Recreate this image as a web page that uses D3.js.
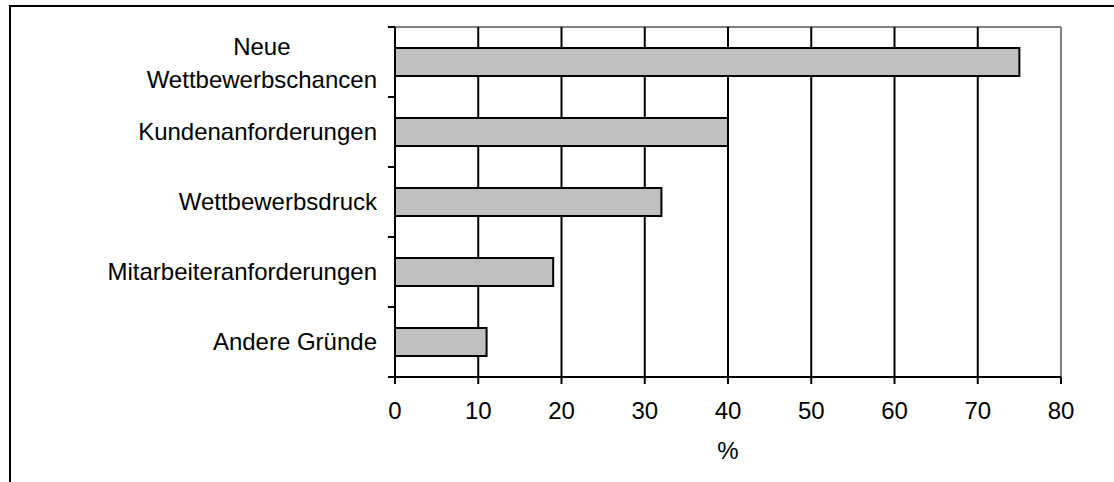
<!DOCTYPE html>
<html><head><meta charset="utf-8">
<script src="https://cdn.jsdelivr.net/npm/d3@7"></script>
<style>html,body{margin:0;padding:0;background:#fff;}svg{display:block;}</style>
</head><body>
<script>
const categories = [["Neue","Wettbewerbschancen"],["Kundenanforderungen"],["Wettbewerbsdruck"],["Mitarbeiteranforderungen"],["Andere Gründe"]];
const values = [75, 40, 32, 19, 11];
const xTicks = [0,10,20,30,40,50,60,70,80];
const xTitle = "%";

(function(){
const W = 1114, H = 482;
const svg = d3.select("body").append("svg").attr("width", W).attr("height", H);
const font = "Liberation Sans, Arial, sans-serif";
const fs = 24;

// outer frame
svg.append("rect").attr("x",10).attr("y",6).attr("width",W+20).attr("height",H+20)
  .attr("fill","none").attr("stroke","#000").attr("stroke-width",2);

const pL = 395, pR = 1061, pT = 27, pB = 377;
const x = d3.scaleLinear().domain([0,80]).range([pL,pR]);
const keys = categories.map((c,i)=>i);
const y = d3.scaleBand().domain(keys).range([pT,pB]).paddingInner(0.6).paddingOuter(0.3);
const gap = (y.step()-y.bandwidth())/2;

// plot border (gray) top and right
svg.append("line").attr("x1",pL).attr("x2",pR).attr("y1",pT).attr("y2",pT).attr("stroke","#808080").attr("stroke-width",2);
svg.append("line").attr("x1",pR).attr("x2",pR).attr("y1",pT).attr("y2",pB).attr("stroke","#808080").attr("stroke-width",2);

// gridlines
svg.selectAll("line.grid").data(xTicks.filter(t=>t>0 && t<80)).enter().append("line")
  .attr("x1",d=>x(d)).attr("x2",d=>x(d)).attr("y1",pT).attr("y2",pB)
  .attr("stroke","#000").attr("stroke-width",2);

// bars
svg.selectAll("rect.bar").data(values).enter().append("rect")
  .attr("x",x(0)).attr("y",(d,i)=>y(i)).attr("width",d=>x(d)-x(0)).attr("height",y.bandwidth())
  .attr("fill","#c0c0c0").attr("stroke","#000").attr("stroke-width",2);

// x axis
svg.append("line").attr("x1",pL).attr("x2",pR).attr("y1",pB).attr("y2",pB).attr("stroke","#000").attr("stroke-width",2);
svg.selectAll("line.xt").data(xTicks).enter().append("line")
  .attr("x1",d=>x(d)).attr("x2",d=>x(d)).attr("y1",pB).attr("y2",pB+7).attr("stroke","#000").attr("stroke-width",2);
svg.selectAll("text.xl").data(xTicks).enter().append("text")
  .attr("x",d=>x(d)).attr("y",419).attr("text-anchor","middle")
  .attr("font-family",font).attr("font-size",fs).attr("fill","#000").text(d=>d);
svg.append("text").attr("x",(pL+pR)/2).attr("y",459).attr("text-anchor","middle")
  .attr("font-family",font).attr("font-size",fs).attr("fill","#000").text(xTitle);

// y axis
svg.append("line").attr("x1",pL).attr("x2",pL).attr("y1",pT).attr("y2",pB).attr("stroke","#000").attr("stroke-width",2);
const bounds = keys.map(i=>y(i)-gap).concat([y(keys.length-1)+y.bandwidth()+gap]);
svg.selectAll("line.yt").data(bounds).enter().append("line")
  .attr("x1",pL-7).attr("x2",pL).attr("y1",d=>d).attr("y2",d=>d).attr("stroke","#000").attr("stroke-width",2);

// category labels
const labelRight = 377, lineH = 33.5;
categories.forEach((lines,i)=>{
  const cy = y(i)+y.bandwidth()/2;
  const t = svg.append("text").attr("font-family",font).attr("font-size",fs).attr("fill","#000");
  if (lines.length===1) {
    t.attr("x",labelRight).attr("y",cy+7.5).attr("text-anchor","end").text(lines[0]);
  } else {
    const tmp = svg.append("text").attr("font-family",font).attr("font-size",fs).text(lines.reduce((a,b)=>a.length>b.length?a:b));
    const w = tmp.node().getComputedTextLength(); tmp.remove();
    const cx = labelRight - w/2;
    const y0 = cy - (lines.length-1)*lineH/2 + 9.5;
    lines.forEach((ln,k)=>{
      t.append("tspan").attr("x",cx).attr("y",y0+k*lineH).attr("text-anchor","middle").text(ln);
    });
  }
});
})();
</script>
</body></html>
